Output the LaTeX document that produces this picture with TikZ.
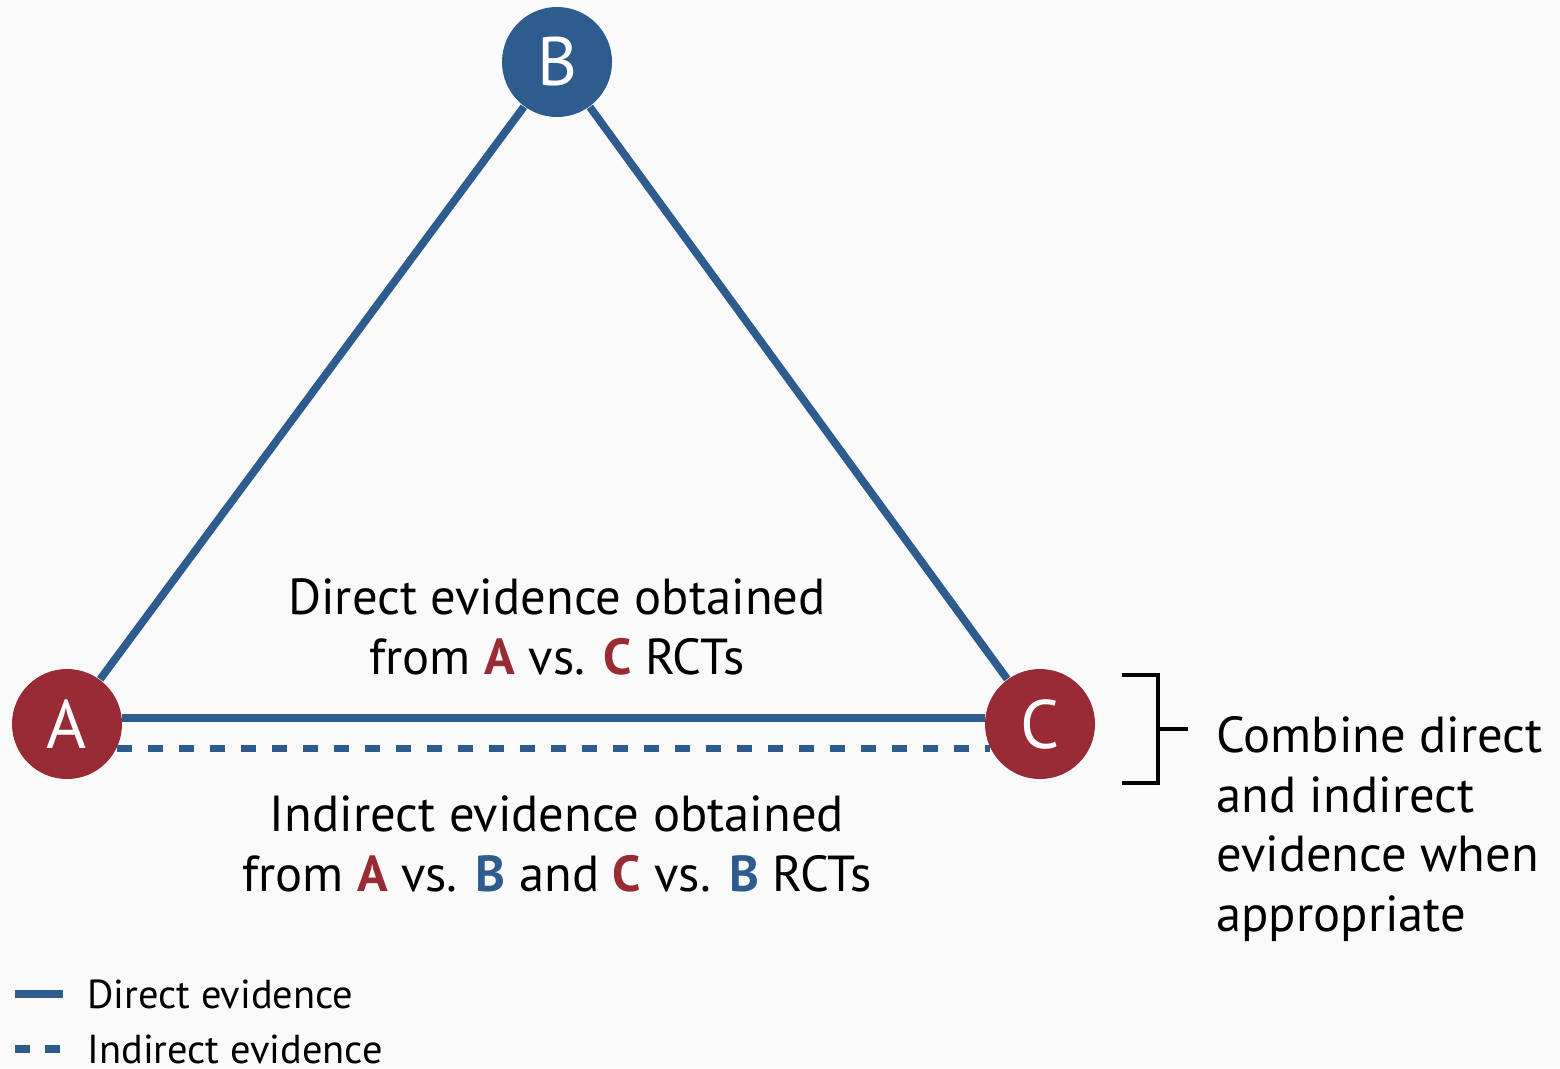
\documentclass[tikz,border=0pt]{standalone}
\usepackage{fontspec}
\setmainfont{PT Sans}
\usetikzlibrary{positioning}
\usetikzlibrary{calc}
\definecolor{evblue}{HTML}{2F5C8F}
\definecolor{evred}{HTML}{982B33}
\definecolor{paper}{HTML}{FAFAFA}
\def\A{\textbf{\textcolor{evred}{A}}}
\def\B{\textbf{\textcolor{evblue}{B}}}
\def\C{\textbf{\textcolor{evred}{C}}}

\begin{document}
\begin{tikzpicture}[
		treat/.style={circle, minimum size=1.1cm, inner sep=0pt, text=white,
			font=\fontsize{19.5}{22}\selectfont},
		direct/.style={evblue, line width=2.2pt},
		indirect/.style={evblue, line width=2.2pt, dash pattern=on 0.15cm off 0.16cm},
		caption/.style={align=center, font=\fontsize{14.4}{17}\selectfont},
		legend/.style={font=\fontsize{11.5}{13}\selectfont, anchor=west}]
		\useasboundingbox (0,0) rectangle (15.6,-10.68);
		\fill[paper] (0,0) rectangle (15.6,-10.68);
		% the three treatments
		\node[treat, fill=evblue] (B) at (5.57,-0.62) {B};
		\node[treat, fill=evred] (A) at (0.67,-7.24) {A};
		\node[treat, fill=evred] (C) at (10.40,-7.24) {C};
		\draw[direct] (B) -- (A);
		\draw[direct] (B) -- (C);
		\draw[direct] (A.6) -- (C.174);
		\draw[indirect] (A.-26) -- (C.206);
		% captions
		\node[caption, anchor=base] (dir) at (5.57,-6.74) {Direct evidence obtained\\from \A{} vs. \C{} RCTs};
		\node[caption, anchor=base] (ind) at (5.57,-8.91) {Indirect evidence obtained\\from \A{} vs. \B{} and \C{} vs. \B{} RCTs};
		% bracket
		\coordinate (brtop) at (11.22,-6.75);
		\coordinate (brbot) at (11.22,-7.83);
		\coordinate (brmid) at (11.58,-7.29);
		\draw[line width=1.3pt] (brtop) -| (brbot -| brmid) -- (brbot);
		\node[caption, align=left, anchor=north west] (comb) at (12.04,-7.04) {Combine direct\\and indirect\\evidence when\\appropriate};
		\draw[line width=1.3pt] (brmid) -- ++(0.30,0);
		% legend
		\coordinate (l1) at (0.15,-9.94);
		\coordinate (l2) at (0.15,-10.49);
		\draw[direct] (l1) -- ++(0.48,0) coordinate (l1e);
		\draw[evblue, line width=2.2pt, dash pattern=on 0.15cm off 0.15cm] (l2) -- ++(0.45,0) coordinate (l2e);
		\node[legend, right = 0.12cm of l1e] (ldir) {Direct evidence};
		\node[legend, right = 0.15cm of l2e] (lind) {Indirect evidence};
\end{tikzpicture}
\end{document}
